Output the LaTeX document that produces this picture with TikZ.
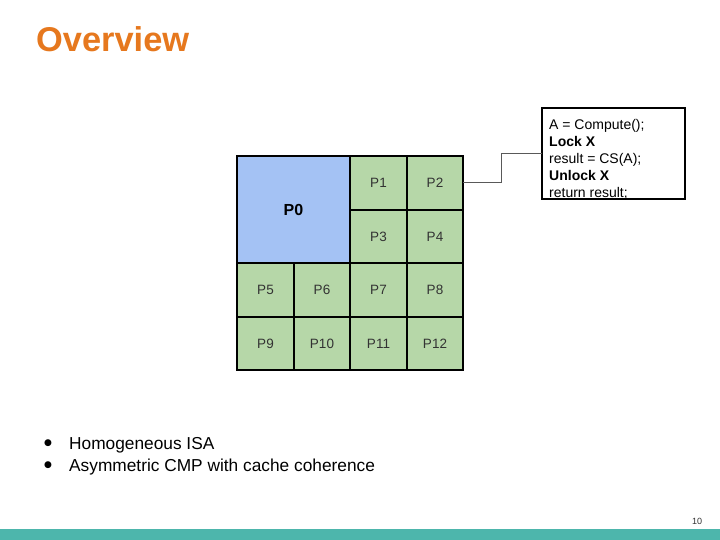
\documentclass[tikz,border=0pt]{standalone}
\usepackage{fontspec}
\setmainfont{Liberation Sans}
\newfontfamily\symfont{DejaVu Sans}
\definecolor{ttl}{RGB}{230,120,30}
\definecolor{pblue}{HTML}{A4C2F4}
\definecolor{pgreen}{HTML}{B6D7A8}
\definecolor{barcol}{RGB}{77,182,172}
\newcommand\pcell[7]{%
  \node[cellbox, fill=#7, minimum width={(#4-#2)*1bp}, minimum height={(#5-#3)*1bp}]
    (#1) at ({(#2+#4)/2},{(#3+#5)/2}) {#6};}
\begin{document}
\begin{tikzpicture}[x=1bp,y=-1bp,
  cellbox/.style={draw=black, line width=2.8bp, inner sep=0pt, outer sep=0pt,
    text=black!80, font=\fontsize{13.5bp}{16bp}\selectfont},
  link/.style={draw=black!65, line width=1bp},
  bulletdot/.style={inner sep=0pt, font=\symfont\fontsize{9bp}{11bp}\selectfont},
  bullettext/.style={inner sep=0pt, anchor=base west, font=\fontsize{17.3bp}{20bp}\selectfont}]
\useasboundingbox (0,0) rectangle (720,540);
\fill[white] (0,0) rectangle (720,540);
% title
\node[inner sep=0pt, anchor=base west, text=ttl, font=\fontsize{34.4bp}{40bp}\selectfont\bfseries] (title) at (36,52) {Overview};
% grid
\pcell{p0}{237}{156}{350}{263}{\fontsize{16bp}{19bp}\selectfont\bfseries\color{black}P0}{pblue}
\pcell{p1}{350}{156}{407}{210}{P1}{pgreen}
\pcell{p2}{407}{156}{463}{210}{P2}{pgreen}
\pcell{p3}{350}{210}{407}{263}{P3}{pgreen}
\pcell{p4}{407}{210}{463}{263}{P4}{pgreen}
\pcell{p5}{237}{263}{294}{317}{P5}{pgreen}
\pcell{p6}{294}{263}{350}{317}{P6}{pgreen}
\pcell{p7}{350}{263}{407}{317}{P7}{pgreen}
\pcell{p8}{407}{263}{463}{317}{P8}{pgreen}
\pcell{p9}{237}{317}{294}{370}{P9}{pgreen}
\pcell{p10}{294}{317}{350}{370}{P10}{pgreen}
\pcell{p11}{350}{317}{407}{370}{P11}{pgreen}
\pcell{p12}{407}{317}{463}{370}{P12}{pgreen}
% code box
\node[draw=black, line width=2.8bp, fill=white, minimum width=143bp, minimum height=91bp,
  inner sep=0pt, outer sep=0pt, anchor=north west] (codebox) at (542,108) {};
\node[inner sep=0pt, anchor=north west, align=left,
  font=\fontsize{14bp}{17bp}\selectfont] (code) at (549,119.5)
  {A = Compute();\\ {\bfseries Lock X}\\ result = CS(A);\\ {\bfseries Unlock X}\\ return result;};
\draw[link] (p2.east) -- ++(38,0) |- (codebox.west);
% bullets
\node[bulletdot] (b1) at (48,443) {●};
\node[bullettext] (t1) at (69,449) {Homogeneous ISA};
\node[bulletdot] (b2) at (48,465) {●};
\node[bullettext] (t2) at (69,471) {Asymmetric CMP with cache coherence};
% footer
\fill[barcol] (0,529) rectangle (720,540);
\node[inner sep=0pt, font=\fontsize{9bp}{10bp}\selectfont, text=black!80] (pnum) at (697,521) {10};
\end{tikzpicture}
\end{document}
